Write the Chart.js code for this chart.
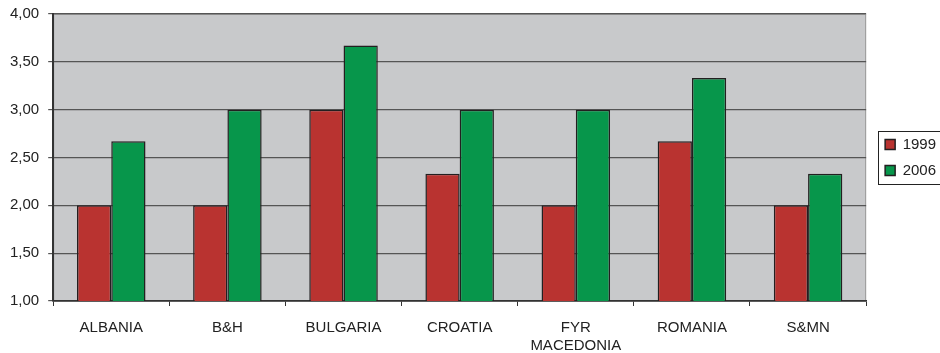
<!DOCTYPE html>
<html>
<head>
<meta charset="utf-8">
<script src="https://cdn.jsdelivr.net/npm/chart.js@4"></script>
<style>
  body { margin: 0; background: #fff; }
  #wrap { width: 940px; height: 353px; }
</style>
</head>
<body>
<div id="wrap"><canvas id="barChart"></canvas></div>
<script>
// data
const countries = ['ALBANIA', 'B&H', 'BULGARIA', 'CROATIA', ['FYR', 'MACEDONIA'], 'ROMANIA', 'S&MN'];
const values1999 = [2.00, 2.00, 3.00, 2.33, 2.00, 2.67, 2.00];
const values2006 = [2.67, 3.00, 3.67, 3.00, 3.00, 3.33, 2.33];
const yTicks = [1.0, 1.5, 2.0, 2.5, 3.0, 3.5, 4.0];

const FONT = 'Liberation Sans, Arial, sans-serif';

// grey plot background
const plotBg = {
  id: 'plotBg',
  beforeDraw(chart) {
    const { ctx, chartArea: a } = chart;
    ctx.save();
    ctx.fillStyle = '#c8c9cb';
    ctx.fillRect(a.left, a.top, a.right - a.left, a.bottom - a.top);
    ctx.strokeStyle = '#9a9a9a';
    ctx.lineWidth = 1;
    ctx.strokeRect(a.left + 0.5, a.top + 0.5, a.right - a.left - 1, a.bottom - a.top);
    ctx.restore();
  }
};

// push the legend a bit away from the plot, then frame it
const legendFrame = {
  id: 'legendFrame',
  afterLayout(chart) {
    if (chart.legend) {
      chart.legend.left += 8;
      chart.legend.right += 8;
    }
  },
  afterDraw(chart) {
    const boxes = chart.legend && chart.legend.legendHitBoxes;
    if (!boxes || !boxes.length) return;
    const ctx = chart.ctx;
    const left = Math.min(...boxes.map(b => b.left)) - 7;
    const top = Math.min(...boxes.map(b => b.top)) - 6;
    const right = Math.max(...boxes.map(b => b.left + b.width)) + 8;
    const bottom = Math.max(...boxes.map(b => b.top + b.height)) + 6;
    ctx.save();
    ctx.strokeStyle = '#222';
    ctx.lineWidth = 1;
    ctx.strokeRect(Math.round(left) + 0.5, Math.round(top) + 0.5, Math.round(right - left), Math.round(bottom - top));
    ctx.restore();
  }
};

new Chart(document.getElementById('barChart'), {
  type: 'bar',
  data: {
    labels: countries,
    datasets: [
      {
        label: '1999',
        data: values1999,
        backgroundColor: '#b93330',
        borderColor: '#231f20',
        borderWidth: 1.5,
        borderSkipped: false,
      },
      {
        label: '2006',
        data: values2006,
        backgroundColor: '#07964b',
        borderColor: '#231f20',
        borderWidth: 1.5,
        borderSkipped: false,
      },
    ],
  },
  options: {
    responsive: true,
    maintainAspectRatio: false,
    animation: false,
    categoryPercentage: 0.59,
    barPercentage: 1.0,
    layout: { padding: { top: 14, left: 1, right: 2, bottom: -15 } },
    plugins: {
      tooltip: { enabled: false },
      legend: {
        position: 'right',
        fullSize: false,
        labels: {
          boxWidth: 10,
          boxHeight: 10,
          padding: 11,
          color: '#222',
          font: { family: FONT, size: 15 },
        },
      },
    },
    scales: {
      x: {
        grid: {
          display: true,
          drawOnChartArea: false,
          offset: true,
          color: '#333',
          tickLength: 5,
        },
        border: { color: '#333', width: 1.5 },
        ticks: {
          color: '#222',
          padding: 13,
          maxRotation: 0,
          font: { family: FONT, size: 15 },
        },
      },
      y: {
        min: 1,
        max: 4,
        afterBuildTicks(axis) {
          axis.ticks = yTicks.map(v => ({ value: v }));
        },
        afterFit(axis) {
          axis.paddingTop = 0;
        },
        grid: {
          color: '#555',
          lineWidth: 1.2,
          tickLength: 5,
        },
        border: { color: '#333', width: 2 },
        ticks: {
          color: '#222',
          padding: 9,
          font: { family: FONT, size: 15 },
          callback: v => v.toFixed(2).replace('.', ','),
        },
      },
    },
  },
  plugins: [plotBg, legendFrame],
});
</script>
</body>
</html>
